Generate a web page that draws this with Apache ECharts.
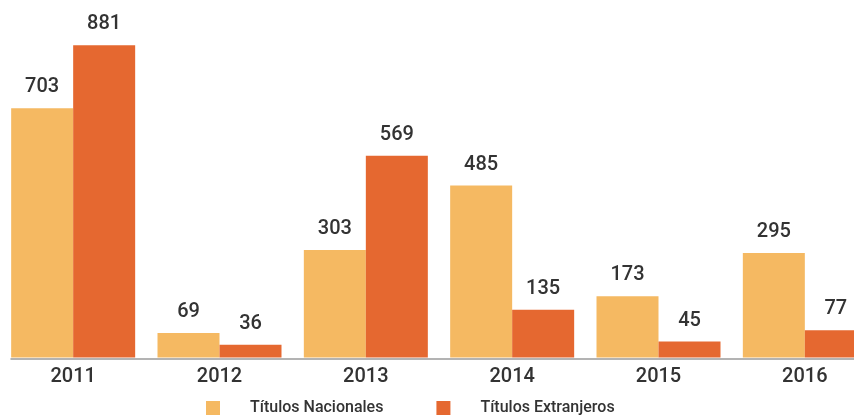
<!DOCTYPE html>
<html>
<head>
<meta charset="utf-8">
<script src="https://cdn.jsdelivr.net/npm/echarts@6/dist/echarts.min.js"></script>
<style>
  html, body { margin: 0; padding: 0; background: #fff; }
  #chart { width: 854px; height: 415px; }
</style>
</head>
<body>
<div id="chart"></div>
<script>
// Títulos registrados por año
const years = ['2011', '2012', '2013', '2014', '2015', '2016'];
const nacionales = [703, 69, 303, 485, 173, 295];
const extranjeros = [881, 36, 569, 135, 45, 77];
const seriesNames = ['Títulos Nacionales', 'Títulos Extranjeros'];

const FONT = 'Roboto, sans-serif';
const TEXT = '#333333';

const chart = echarts.init(document.getElementById('chart'), null, { renderer: 'canvas' });

const valueLabel = {
  show: true,
  position: 'top',
  distance: 11,
  color: TEXT,
  fontFamily: FONT,
  fontWeight: 500,
  fontSize: 20
};

chart.setOption({
  animation: false,
  backgroundColor: '#ffffff',
  legend: {
    data: seriesNames,
    left: 201,
    top: 395,
    itemWidth: 14,
    itemHeight: 14,
    itemGap: 53,
    icon: 'rect',
    textStyle: {
      color: TEXT,
      fontFamily: FONT,
      fontWeight: 500,
      fontSize: 16,
      padding: [0, 0, 0, 25]
    }
  },
  grid: [
    { left: 0, top: 3, width: 878, bottom: 57.5, outerBoundsMode: 'none' },
    { left: 11, top: 3, right: 0, bottom: 56, outerBoundsMode: 'none' }
  ],
  xAxis: [
    {
      type: 'category',
      gridIndex: 0,
      data: years,
      axisLine: { show: false },
      axisTick: { show: false },
      axisLabel: {
        color: TEXT,
        fontFamily: FONT,
        fontWeight: 500,
        fontSize: 20,
        margin: 9
      }
    },
    {
      type: 'value',
      gridIndex: 1,
      min: 0,
      max: 1,
      axisLine: { show: true, lineStyle: { color: '#9a9a9a', width: 1.5 } },
      axisTick: { show: false },
      axisLabel: { show: false },
      splitLine: { show: false }
    }
  ],
  yAxis: [
    { type: 'value', gridIndex: 0, min: 0, max: 1000, show: false, splitLine: { show: false } },
    { type: 'value', gridIndex: 1, min: 0, max: 1, show: false, splitLine: { show: false } }
  ],
  series: [
    {
      name: seriesNames[0],
      type: 'bar',
      xAxisIndex: 0,
      yAxisIndex: 0,
      data: nacionales,
      barWidth: 62,
      barGap: '0%',
      itemStyle: { color: '#F5B962' },
      label: valueLabel
    },
    {
      name: seriesNames[1],
      type: 'bar',
      xAxisIndex: 0,
      yAxisIndex: 0,
      data: extranjeros,
      barWidth: 62,
      barGap: '0%',
      itemStyle: { color: '#E56830' },
      label: valueLabel
    }
  ]
});
</script>
</body>
</html>
